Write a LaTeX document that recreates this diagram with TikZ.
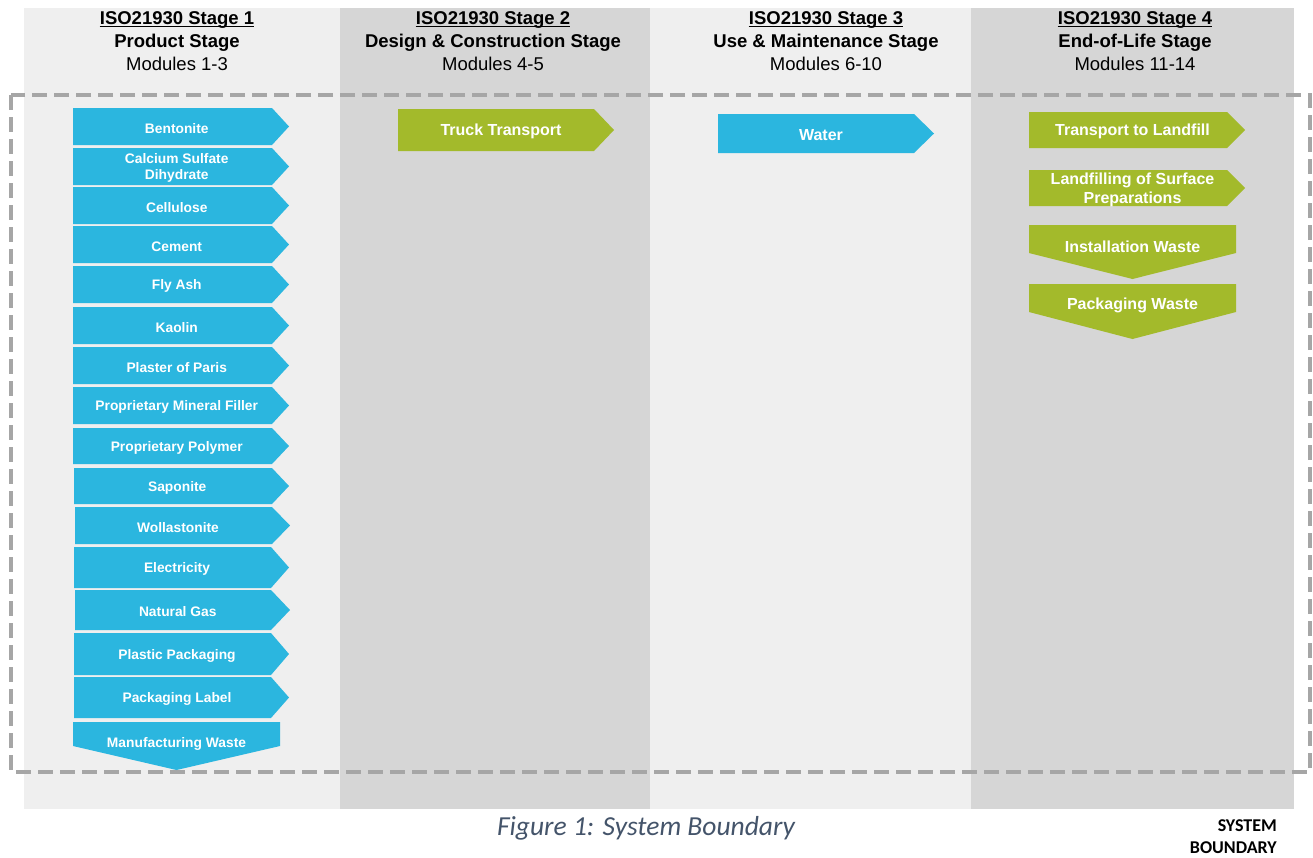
\documentclass[tikz,border=0pt]{standalone}
\usepackage{fontspec}
\setmainfont{Liberation Sans}
\newfontfamily\capfont{Carlito}
\definecolor{colA}{HTML}{EFEFEF}
\definecolor{colB}{HTML}{D6D6D6}
\definecolor{arrblue}{HTML}{2BB6DF}
\definecolor{arrgreen}{HTML}{A3BA2B}
\definecolor{dashgray}{HTML}{A6A6A6}
\definecolor{capcol}{HTML}{44546A}
\tikzset{
  hdrone/.style={font=\bfseries\fontsize{18.5}{22}\selectfont, anchor=base, inner sep=0pt},
  hdrtwo/.style={font=\bfseries\fontsize{18.5}{22}\selectfont, anchor=base, inner sep=0pt},
  hdrthree/.style={font=\fontsize{18.5}{22}\selectfont, anchor=base, inner sep=0pt},
  smalltext/.style={font=\bfseries\fontsize{13.8}{16}\selectfont, text=white, align=center, inner sep=0pt, yshift=-1.8pt},
  bigtext/.style={font=\bfseries\fontsize{16}{19.5}\selectfont, text=white, align=center, inner sep=0pt, yshift=-1.8pt},
  boundary/.style={draw=dashgray, line width=4pt, dash pattern=on 15pt off 7pt},
}
% right-pointing arrow: name, x1, y1, x2(body end), y2, tip x, colour, style, text
\newcommand\rarr[9]{%
  \fill[#7] (#2,#3) -- (#4,#3) -- (#6,{(#3+#5)/2}) -- (#4,#5) -- (#2,#5) -- cycle;
  \node[#8] (#1) at ({(2*#2+#4+#6)/4},{(#3+#5)/2}) {#9};}
% down-pointing arrow: name, x1, ytop, x2, yside, ytip, colour, style, text
\newcommand\darr[9]{%
  \fill[#7] (#2,#3) -- (#4,#3) -- (#4,#5) -- ({(#2+#4)/2},#6) -- (#2,#5) -- cycle;
  \node[#8] (#1) at ({(#2+#4)/2},{#3+20}) {#9};}
\begin{document}
\begin{tikzpicture}[x=1pt,y=-1pt]
\useasboundingbox (0,0) rectangle (1313,857);
% columns
\fill[colA] (24,8) rectangle (340,809);
\fill[colB] (340,8) rectangle (650,809);
\fill[colA] (650,8) rectangle (971,809);
\fill[colB] (971,8) rectangle (1294,809);
% headers
\node[hdrone] (h1a) at (177,24.5) {ISO21930 Stage 1};
\node[hdrtwo] (h1b) at (177,47.5) {Product Stage};
\node[hdrthree] (h1c) at (177,70.5) {Modules 1-3};
\node[hdrone] (h2a) at (493,24.5) {ISO21930 Stage 2};
\node[hdrtwo] (h2b) at (493,47.5) {Design \& Construction Stage};
\node[hdrthree] (h2c) at (493,70.5) {Modules 4-5};
\node[hdrone] (h3a) at (826,24.5) {ISO21930 Stage 3};
\node[hdrtwo] (h3b) at (826,47.5) {Use \& Maintenance Stage};
\node[hdrthree] (h3c) at (826,70.5) {Modules 6-10};
\node[hdrone] (h4a) at (1135,24.5) {ISO21930 Stage 4};
\node[hdrtwo] (h4b) at (1135,47.5) {End-of-Life Stage};
\node[hdrthree] (h4c) at (1135,70.5) {Modules 11-14};
\foreach \h in {h1a,h2a,h3a,h4a}
  \draw[line width=1.3pt] ([yshift=-2pt]\h.base west) -- ([yshift=-2pt]\h.base east);
% system boundary
\draw[boundary] (11,95) rectangle (1310,772);
% stage 1
\rarr{a1}{73}{108}{272}{145}{289}{arrblue}{smalltext}{Bentonite}
\rarr{a2}{73}{148}{272}{185}{289}{arrblue}{smalltext}{Calcium Sulfate\\Dihydrate}
\rarr{a3}{73}{187}{272}{224}{289}{arrblue}{smalltext}{Cellulose}
\rarr{a4}{73}{226}{272}{263}{289}{arrblue}{smalltext}{Cement}
\rarr{a5}{73}{266}{272}{303}{289}{arrblue}{smalltext}{Fly Ash}
\rarr{a6}{73}{307}{272}{344}{289}{arrblue}{smalltext}{Kaolin}
\rarr{a7}{73}{347}{272}{384}{289}{arrblue}{smalltext}{Plaster of Paris}
\rarr{a8}{73}{387}{272}{424}{289}{arrblue}{smalltext}{Proprietary Mineral Filler}
\rarr{a9}{73}{428}{272}{464}{289}{arrblue}{smalltext}{Proprietary Polymer}
\rarr{a10}{74}{468}{272}{504}{289}{arrblue}{smalltext}{Saponite}
\rarr{a11}{75}{507}{272}{544}{290}{arrblue}{smalltext}{Wollastonite}
\rarr{a12}{74}{547}{271}{588}{289}{arrblue}{smalltext}{Electricity}
\rarr{a13}{75}{590}{271}{630}{290}{arrblue}{smalltext}{Natural Gas}
\rarr{a14}{74}{633}{271}{675}{289}{arrblue}{smalltext}{Plastic Packaging}
\rarr{a15}{74}{677}{271}{718}{289}{arrblue}{smalltext}{Packaging Label}
\darr{a16}{73}{722}{280}{746}{770}{arrblue}{smalltext}{Manufacturing Waste}
% stage 2
\rarr{b1}{398}{109}{594}{151}{614}{arrgreen}{bigtext}{Truck Transport}
% stage 3
\rarr{c1}{718}{114}{914}{153}{934}{arrblue}{bigtext}{Water}
% stage 4
\rarr{d1}{1029}{112}{1227}{148}{1245}{arrgreen}{bigtext}{Transport to Landfill}
\rarr{d2}{1029}{170}{1227}{206}{1245}{arrgreen}{bigtext}{Landfilling of Surface\\Preparations}
\darr{d3}{1029}{225}{1236}{253}{279}{arrgreen}{bigtext}{Installation Waste}
\darr{d4}{1029}{284}{1236}{312}{339}{arrgreen}{bigtext}{Packaging Waste}
% caption
\node[font=\capfont\itshape\fontsize{27.5}{30}\selectfont, text=capcol] (cap) at (646,828) {Figure 1: System Boundary};
\node[font=\capfont\bfseries\fontsize{18}{22}\selectfont, align=right, anchor=east, inner sep=0pt] (sb) at (1277,837) {SYSTEM\\BOUNDARY};
\end{tikzpicture}
\end{document}
